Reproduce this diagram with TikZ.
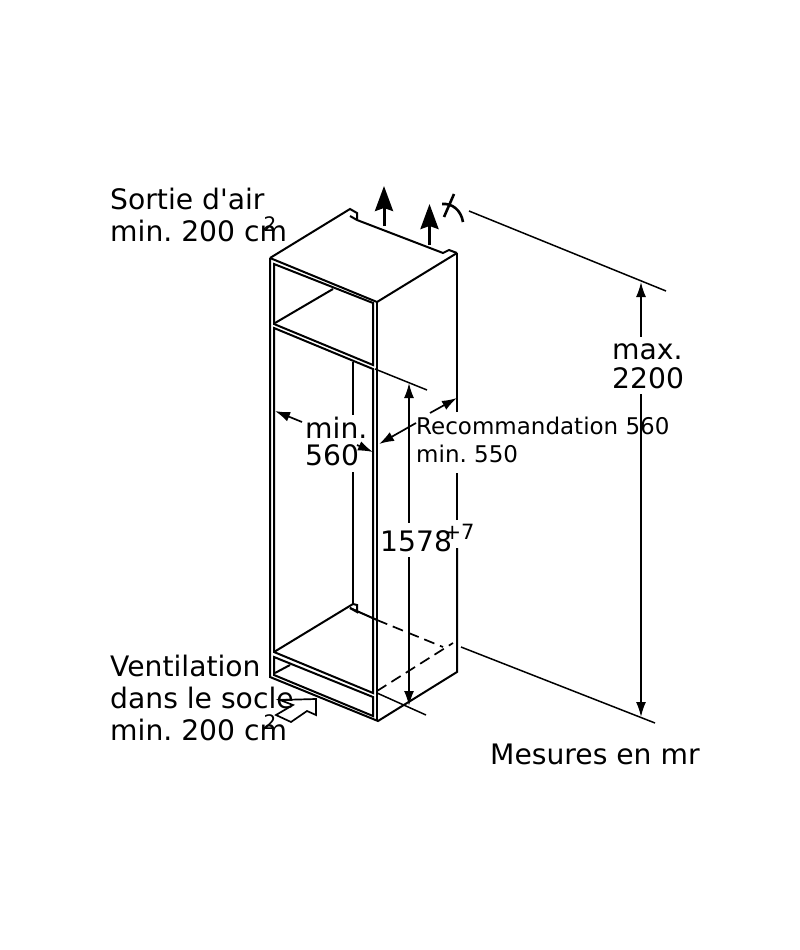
\documentclass[tikz,border=0pt]{standalone}
\usepackage{fontspec}
\setmainfont[Ligatures=TeXOff]{DejaVu Sans}
\usetikzlibrary{arrows.meta}
\tikzset{
  wall/.style={line width=2pt,line join=miter},
  thin wall/.style={line width=1.7pt},
  dimline/.style={line width=1.5pt},
  dimarrow/.style={line width=1.7pt,-{Latex[length=15pt,width=10pt]}},
  dimstart/.style={line width=1.7pt,{Latex[length=15pt,width=10pt]}-},
  airarrow/.style={line width=3pt,-{Stealth[length=25pt,width=18pt,inset=3pt]}},
  big/.style={font=\fontsize{28.2}{32}\selectfont,align=left,inner sep=0pt,anchor=north west},
  tight/.style={font=\fontsize{28.2}{29}\selectfont,align=left,inner sep=0pt,anchor=north west},
  tighter/.style={font=\fontsize{28.2}{27}\selectfont,align=left,inner sep=0pt,anchor=north west},
  mid/.style={font=\fontsize{23}{28}\selectfont,align=left,inner sep=0pt,anchor=north west}
}
\frenchspacing
\begin{document}
\begin{tikzpicture}[x=1pt,y=-1pt]
                      \useasboundingbox (0,0) rectangle (800,950);
                      \draw [wall] (270,258)--(350,209)--(357,213)--(357,220);
                      \draw [wall] (350,216)--(357,220)--(443,253)--(449,250)--(457,253);
                      \draw [wall] (270,258)--(377,302)--(457,253);
                      \draw [wall] (270,258)--(270,677)--(378,721)--(457,672)--(457,548);
                      \draw [wall] (457,520)--(457,473);
                      \draw [wall] (457,412)--(457,253);
                      \draw [wall] (377,302)--(377,721);
                      \draw [wall] (274,264)--(373,303)--(373,365)--(274,324)--cycle;
                      \draw [wall] (274,328)--(373,369)--(373,693)--(274,652)--cycle;
                      \draw [wall] (275,323)--(333,289);
                      \draw [thin wall] (353,362)--(353,415);
                      \draw [thin wall] (353,472)--(353,604);
                      \draw [wall] (274,652)--(353,604)--(357,605)--(357,612)--(350,608);
                      \draw [wall] (350,608)--(377,620);
                      \draw [thin wall,dash pattern=on 11pt off 6pt] (377,620)--(443,647);
                      \draw [thin wall,dash pattern=on 11pt off 6pt] (377,691)--(453,643);
                      \draw [wall] (274,657)--(373,697)--(373,716)--(274,675)--cycle;
                      \draw [wall] (275,673)--(290,665);
                      \draw [dimline] (375,369)--(427,390);
                      \draw [dimline] (377,693)--(426,715);
                      \draw [dimline] (469,211)--(666,291);
                      \draw [dimline] (461,647)--(655,723);
                      \draw [dimstart] (409,383)--(409,523);
                      \draw [dimarrow] (409,557)--(409,706);
                      \draw [dimstart] (641,282)--(641,337);
                      \draw [dimarrow] (641,394)--(641,717);
                      \draw [airarrow] (384,226)--(384,186);
                      \draw [airarrow] (429.5,245)--(429.5,204);
                      \draw [line width=2.6pt] (444,217)--(454,194);
                      \draw [line width=2.6pt] (442,204) .. controls (452,203) and (461,210) .. (463,222);
                      \draw [thin wall] (280,700)--(316,699)--(316,715)--(307,711)--(291,722)--(276,715)--(293,705)--cycle;
                      \node (exit) [big] at (110,188) {Sortie d'air\\min. 200 cm};
                      \node (exitsq) [inner sep=0pt,font=\fontsize{20}{20}\selectfont] at (270,224) {2};
                      \node (socle) [big] at (110,655) {Ventilation\\dans le socle\\min. 200 cm};
                      \node (soclesq) [inner sep=0pt,font=\fontsize{20}{20}\selectfont] at (270,722) {2};
                      \node (maxh) [tight] at (612,344) {max.\\2200};
                      \node (width) [tighter] at (305,417) {min.\\560};
                      \node (reco) [mid] at (416,417) {Recommandation 560\\min. 550};
                      \node (height) [big,anchor=west] at (380,541) {1578};
                      \node (tol) [inner sep=0pt,font=\fontsize{21}{21}\selectfont] at (459,532) {+7};
                      \node (unit) [big] at (490,744) {Mesures en mr};
                      \draw [dimarrow] (302,422)--(275,411);
                      \draw [dimarrow] (357,445)--(373,452);
                      \draw [dimarrow] (416,423)--(379,444);
                      \draw [dimarrow] (430,413)--(457,398);
                  \end{tikzpicture}
\end{document}
